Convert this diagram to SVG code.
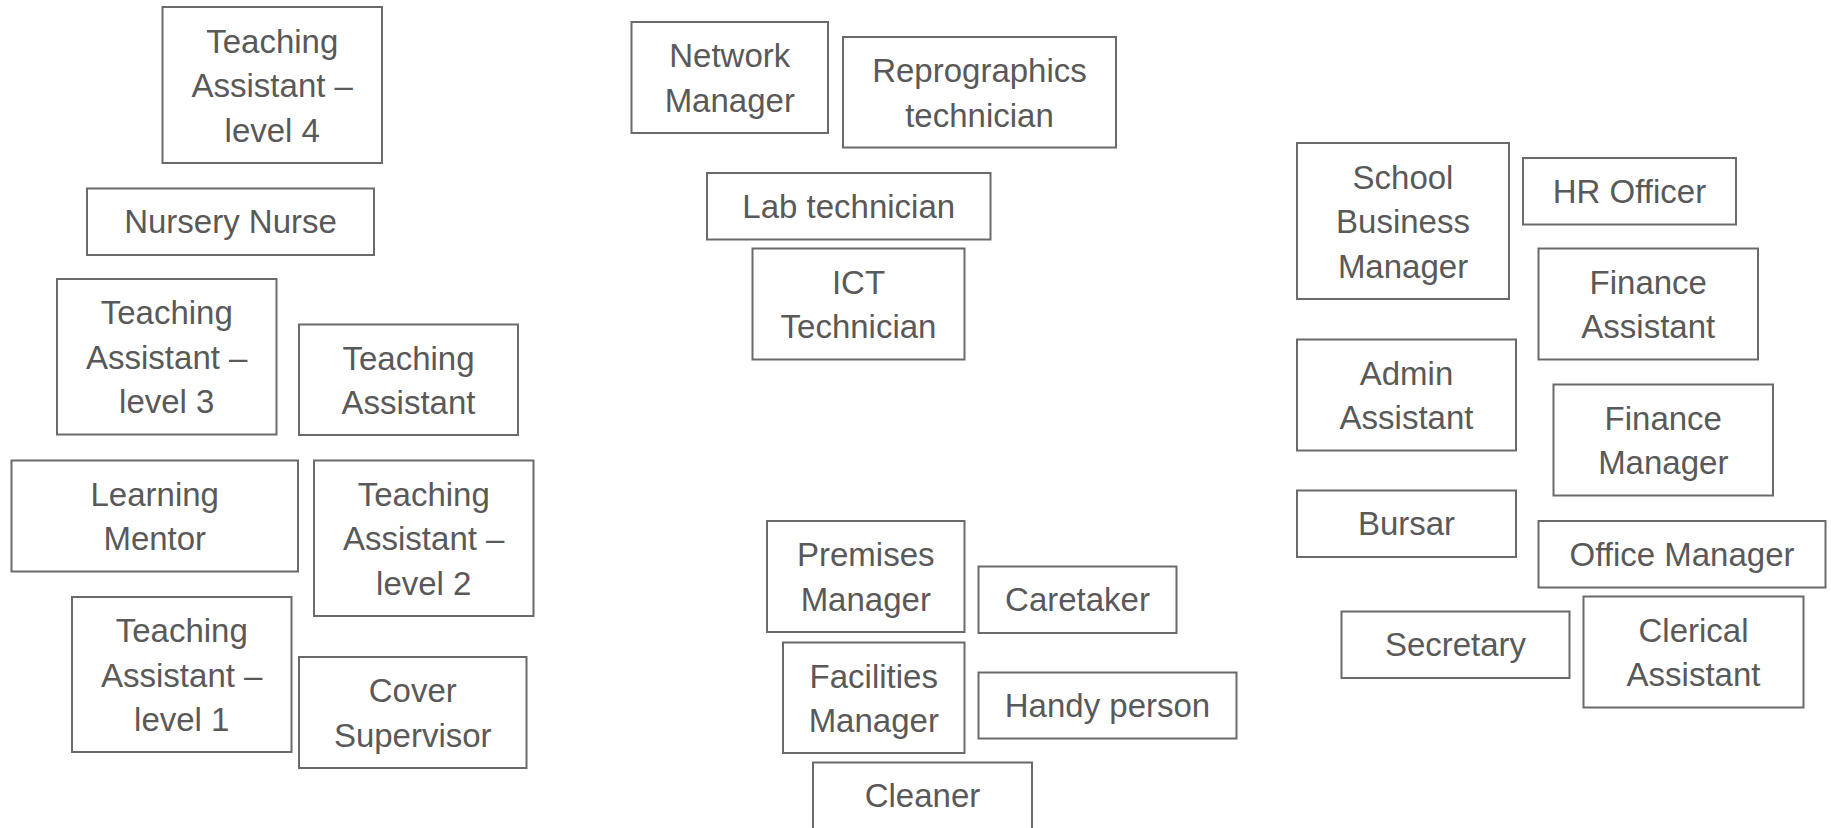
<svg xmlns="http://www.w3.org/2000/svg" width="1831" height="828" viewBox="0 0 1831 828">
<style>
rect.box{fill:#ffffff;stroke:#6a6a6a;stroke-width:2}
text{font-family:"Liberation Sans",Arial,sans-serif;font-size:33px;fill:#595959;text-anchor:middle}
</style>
<rect x="0" y="0" width="1831" height="828" fill="#ffffff"/>
<g id="connectors"></g>
<g id="ta4"><rect class="box" x="162.5" y="7" width="219.5" height="156"/><text><tspan x="272.25" y="52.5">Teaching</tspan><tspan x="272.25" y="97">Assistant –</tspan><tspan x="272.25" y="141.5">level 4</tspan></text></g>
<g id="nursery-nurse"><rect class="box" x="87" y="188.5" width="287" height="66.5"/><text x="230.5" y="233">Nursery Nurse</text></g>
<g id="ta3"><rect class="box" x="57" y="279" width="219.5" height="155.5"/><text><tspan x="166.75" y="324.25">Teaching</tspan><tspan x="166.75" y="368.75">Assistant –</tspan><tspan x="166.75" y="413.25">level 3</tspan></text></g>
<g id="ta"><rect class="box" x="299" y="324.5" width="219" height="110.5"/><text><tspan x="408.5" y="369.5">Teaching</tspan><tspan x="408.5" y="414">Assistant</tspan></text></g>
<g id="learning-mentor"><rect class="box" x="11.5" y="460.5" width="286.5" height="111"/><text><tspan x="154.75" y="505.75">Learning</tspan><tspan x="154.75" y="550.25">Mentor</tspan></text></g>
<g id="ta2"><rect class="box" x="314" y="460.5" width="219.5" height="155.5"/><text><tspan x="423.75" y="505.75">Teaching</tspan><tspan x="423.75" y="550.25">Assistant –</tspan><tspan x="423.75" y="594.75">level 2</tspan></text></g>
<g id="ta1"><rect class="box" x="72" y="597" width="219.5" height="155"/><text><tspan x="181.75" y="642">Teaching</tspan><tspan x="181.75" y="686.5">Assistant –</tspan><tspan x="181.75" y="731">level 1</tspan></text></g>
<g id="cover-supervisor"><rect class="box" x="299" y="657" width="227.5" height="111"/><text><tspan x="412.75" y="702.25">Cover</tspan><tspan x="412.75" y="746.75">Supervisor</tspan></text></g>
<g id="network-manager"><rect class="box" x="631.5" y="22" width="196.5" height="111"/><text><tspan x="729.75" y="67.25">Network</tspan><tspan x="729.75" y="111.75">Manager</tspan></text></g>
<g id="reprographics"><rect class="box" x="843" y="37" width="273" height="110.5"/><text><tspan x="979.5" y="82">Reprographics</tspan><tspan x="979.5" y="126.5">technician</tspan></text></g>
<g id="lab-technician"><rect class="box" x="707" y="173" width="283.5" height="66.5"/><text x="848.75" y="217.75">Lab technician</text></g>
<g id="ict-technician"><rect class="box" x="752.5" y="248.5" width="212" height="111"/><text><tspan x="858.5" y="293.75">ICT</tspan><tspan x="858.5" y="338.25">Technician</tspan></text></g>
<g id="premises-manager"><rect class="box" x="767" y="521" width="197.5" height="111"/><text><tspan x="865.75" y="566.25">Premises</tspan><tspan x="865.75" y="610.75">Manager</tspan></text></g>
<g id="caretaker"><rect class="box" x="978.5" y="566.5" width="198" height="66.5"/><text x="1077.5" y="611.25">Caretaker</text></g>
<g id="facilities-manager"><rect class="box" x="783" y="642.5" width="181.5" height="110.5"/><text><tspan x="873.75" y="687.5">Facilities</tspan><tspan x="873.75" y="732">Manager</tspan></text></g>
<g id="handy-person"><rect class="box" x="978.5" y="672.5" width="258" height="66"/><text x="1107.5" y="717">Handy person</text></g>
<g id="cleaner"><rect class="box" x="813" y="762.5" width="219" height="66.5"/><text x="922.5" y="807.25">Cleaner</text></g>
<g id="school-business-manager"><rect class="box" x="1297" y="143" width="212" height="156"/><text><tspan x="1403" y="188.5">School</tspan><tspan x="1403" y="233">Business</tspan><tspan x="1403" y="277.5">Manager</tspan></text></g>
<g id="hr-officer"><rect class="box" x="1523" y="158" width="213" height="66.5"/><text x="1629.5" y="202.75">HR Officer</text></g>
<g id="finance-assistant"><rect class="box" x="1538.5" y="248.5" width="219.5" height="111"/><text><tspan x="1648.25" y="293.75">Finance</tspan><tspan x="1648.25" y="338.25">Assistant</tspan></text></g>
<g id="admin-assistant"><rect class="box" x="1297" y="339.5" width="219" height="111"/><text><tspan x="1406.5" y="384.75">Admin</tspan><tspan x="1406.5" y="429.25">Assistant</tspan></text></g>
<g id="finance-manager"><rect class="box" x="1553.5" y="384.5" width="219.5" height="111"/><text><tspan x="1663.25" y="429.75">Finance</tspan><tspan x="1663.25" y="474.25">Manager</tspan></text></g>
<g id="bursar"><rect class="box" x="1297" y="490.5" width="219" height="66.5"/><text x="1406.5" y="535.25">Bursar</text></g>
<g id="office-manager"><rect class="box" x="1538.5" y="521" width="287" height="66.5"/><text x="1682" y="565.75">Office Manager</text></g>
<g id="secretary"><rect class="box" x="1341.5" y="611.5" width="228" height="66.5"/><text x="1455.5" y="656.25">Secretary</text></g>
<g id="clerical-assistant"><rect class="box" x="1583.5" y="596.5" width="220" height="111"/><text><tspan x="1693.5" y="641.75">Clerical</tspan><tspan x="1693.5" y="686.25">Assistant</tspan></text></g>
</svg>
